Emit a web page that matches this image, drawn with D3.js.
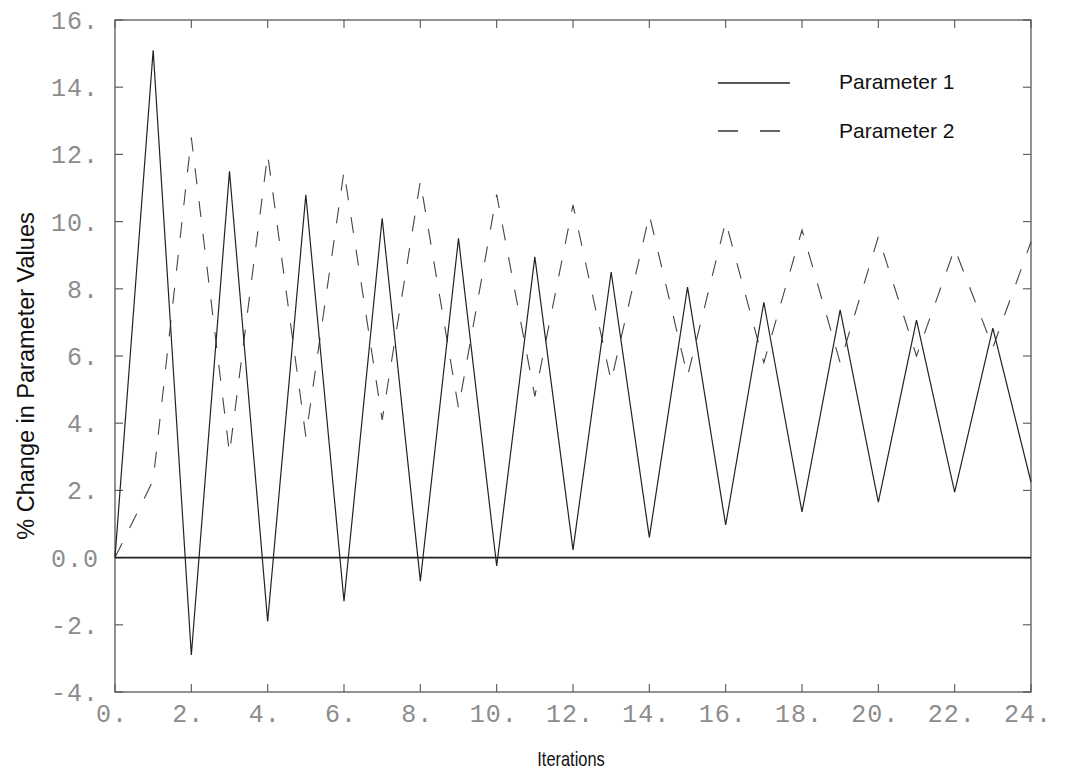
<!DOCTYPE html>
<html>
<head>
<meta charset="utf-8">
<script src="https://cdn.jsdelivr.net/npm/d3@7"></script>
<style>
  html, body { margin: 0; padding: 0; background: #fff; }
  svg { display: block; }
</style>
</head>
<body>
<svg id="chart" width="1065" height="784"></svg>
<script>
// Iteration index along the x axis
const iterations = [0, 1, 2, 3, 4, 5, 6, 7, 8, 9, 10, 11, 12, 13, 14, 15, 16, 17, 18, 19, 20, 21, 22, 23, 24];

// % change of each parameter at every iteration
const param1 = [0, 15.1, -2.9, 11.5, -1.9, 10.8, -1.3, 10.1, -0.7, 9.5, -0.25, 8.95, 0.23, 8.5, 0.6, 8.05, 0.97, 7.6, 1.36, 7.37, 1.65, 7.07, 1.95, 6.83, 2.25];
const param2 = [0, 2.3, 12.5, 3.1, 12.0, 3.6, 11.5, 4.1, 11.2, 4.45, 10.8, 4.8, 10.5, 5.25, 10.2, 5.4, 10.0, 5.8, 9.75, 5.8, 9.55, 6.0, 9.2, 6.25, 9.4];

// Axis ticks and their printed labels
const xTickValues = [0, 2, 4, 6, 8, 10, 12, 14, 16, 18, 20, 22, 24];
const xTickLabels = ["0.", "2.", "4.", "6.", "8.", "10.", "12.", "14.", "16.", "18.", "20.", "22.", "24."];
const yTickValues = [-4, -2, 0, 2, 4, 6, 8, 10, 12, 14, 16];
const yTickLabels = ["-4.", "-2.", "0.0", "2.", "4.", "6.", "8.", "10.", "12.", "14.", "16."];

const seriesNames = ["Parameter 1", "Parameter 2"];

const svg = d3.select("#chart");
const plot = { left: 115, right: 1031, top: 20, bottom: 692 };

const x = d3.scaleLinear().domain([0, 24]).range([plot.left, plot.right]);
const y = d3.scaleLinear().domain([-4, 16]).range([plot.bottom, plot.top]);

const tickFont = "'Liberation Mono', 'DejaVu Sans Mono', monospace";
const textFont = "'Liberation Sans', Arial, Helvetica, sans-serif";

// Frame
svg.append("rect")
  .attr("x", plot.left).attr("y", plot.top)
  .attr("width", plot.right - plot.left).attr("height", plot.bottom - plot.top)
  .attr("fill", "none").attr("stroke", "#4a4a4a").attr("stroke-width", 1.2);

// Inward tick marks on all four sides
const tickLen = 8;
const ticks = svg.append("g").attr("stroke", "#555").attr("stroke-width", 1.1);
xTickValues.forEach(v => {
  ticks.append("line").attr("x1", x(v)).attr("x2", x(v)).attr("y1", plot.bottom).attr("y2", plot.bottom - tickLen);
  ticks.append("line").attr("x1", x(v)).attr("x2", x(v)).attr("y1", plot.top).attr("y2", plot.top + tickLen);
});
yTickValues.forEach(v => {
  ticks.append("line").attr("x1", plot.left).attr("x2", plot.left + tickLen).attr("y1", y(v)).attr("y2", y(v));
  ticks.append("line").attr("x1", plot.right).attr("x2", plot.right - tickLen).attr("y1", y(v)).attr("y2", y(v));
});

// Tick labels
svg.append("g").selectAll("text").data(xTickValues).join("text")
  .attr("x", d => x(d) - 3)
  .attr("y", plot.bottom + 30)
  .attr("text-anchor", "middle")
  .attr("font-family", tickFont).attr("font-size", 25)
  .attr("letter-spacing", 1)
  .attr("fill", "#8c8c8c")
  .text((d, i) => xTickLabels[i]);

svg.append("g").selectAll("text").data(yTickValues).join("text")
  .attr("x", plot.left - 16)
  .attr("y", d => y(d))
  .attr("dy", "0.36em")
  .attr("text-anchor", "end")
  .attr("font-family", tickFont).attr("font-size", 25)
  .attr("letter-spacing", 1)
  .attr("fill", "#8c8c8c")
  .text((d, i) => yTickLabels[i]);

// Zero reference line
svg.append("line")
  .attr("x1", x(0)).attr("x2", x(24))
  .attr("y1", y(0)).attr("y2", y(0))
  .attr("stroke", "#222").attr("stroke-width", 1.6);

// Series lines
const line = d3.line().x((d, i) => x(iterations[i])).y(d => y(d));

svg.append("path").datum(param2)
  .attr("d", line)
  .attr("fill", "none")
  .attr("stroke", "#444").attr("stroke-width", 1.1)
  .attr("stroke-dasharray", "16,17");

svg.append("path").datum(param1)
  .attr("d", line)
  .attr("fill", "none")
  .attr("stroke", "#222").attr("stroke-width", 1.2);

// Legend
const legend = svg.append("g");
legend.append("line").attr("x1", 718).attr("x2", 790).attr("y1", 83).attr("y2", 83)
  .attr("stroke", "#222").attr("stroke-width", 1.3);
legend.append("line").attr("x1", 718).attr("x2", 786).attr("y1", 131).attr("y2", 131)
  .attr("stroke", "#333").attr("stroke-width", 1.3).attr("stroke-dasharray", "20,22");
legend.selectAll("text").data(seriesNames).join("text")
  .attr("x", 839)
  .attr("y", (d, i) => 89 + i * 49)
  .attr("font-family", textFont).attr("font-size", 21)
  .attr("fill", "#111")
  .text(d => d);

// Axis titles (x title set in a condensed face)
svg.append("text")
  .attr("transform", "translate(571,766) scale(0.82,1)")
  .attr("text-anchor", "middle")
  .attr("font-family", textFont).attr("font-size", 20)
  .attr("fill", "#111")
  .text("Iterations");

svg.append("text")
  .attr("transform", "translate(34,376) rotate(-90)")
  .attr("text-anchor", "middle")
  .attr("font-family", textFont).attr("font-size", 23.5)
  .attr("fill", "#111")
  .text("% Change in Parameter Values");
</script>
</body>
</html>
